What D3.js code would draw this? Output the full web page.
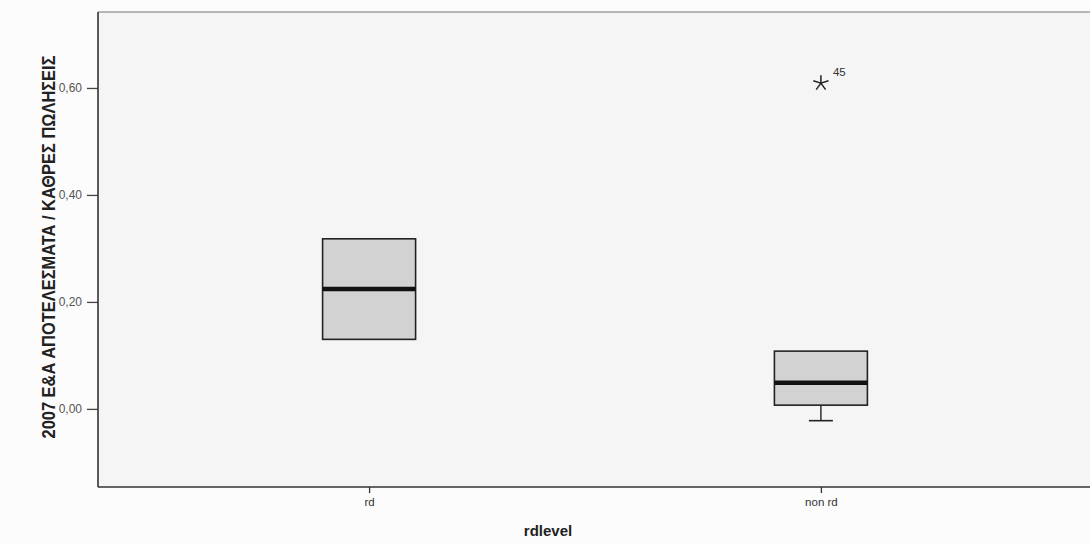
<!DOCTYPE html>
<html>
<head>
<meta charset="utf-8">
<script src="https://cdn.jsdelivr.net/npm/d3@7"></script>
<style>
  html, body { margin: 0; padding: 0; background: #fcfcfc; }
  svg { display: block; }
</style>
</head>
<body>
<svg id="chart" width="1090" height="544"></svg>
<script>
// ---- data ----
const categories = ["rd", "non rd"];
const whiskerLow  = [0.130, -0.022];
const q1          = [0.130, 0.007];
const median      = [0.224, 0.049];
const q3          = [0.318, 0.108];
const whiskerHigh = [0.318, 0.108];
const outlierValues = [null, 0.609];
const outlierLabels = [null, "45"];
const yTicks = [0.0, 0.2, 0.4, 0.6];
const yTitle = "2007 Ε&Α ΑΠΟΤΕΛΕΣΜΑΤΑ / ΚΑΘΡΕΣ ΠΩΛΗΣΕΙΣ";
const xTitle = "rdlevel";

// ---- layout ----
const plotL = 98, plotT = 12, plotB = 487, plotR = 1092;
const svg = d3.select("#chart");

const y = d3.scaleLinear().domain([-0.146, 0.742]).range([plotB, plotT]);
const x = d3.scalePoint().domain(categories).range([plotL, plotR]).padding(0.6);
const boxW = 93;

// plot background
svg.append("rect").attr("x", plotL).attr("y", plotT).attr("width", plotR - plotL).attr("height", plotB - plotT)
  .attr("fill", "#f5f5f5");
svg.append("line").attr("x1", plotL).attr("x2", plotR).attr("y1", plotT).attr("y2", plotT)
  .attr("stroke", "#a0a0a0").attr("stroke-width", 1.5);

// y axis
const yAxis = d3.axisLeft(y).tickValues(yTicks).tickSize(11).tickPadding(5)
  .tickFormat(d => d3.format(".2f")(d).replace(".", ","));
const gy = svg.append("g").attr("transform", `translate(${plotL},0)`).call(yAxis);
gy.select(".domain").remove();
gy.selectAll(".tick line").attr("stroke", "#444").attr("stroke-width", 1.3);
gy.selectAll(".tick text").attr("fill", "#555").style("font-family", "Liberation Sans, Arial, sans-serif")
  .style("font-size", "12px");
svg.append("line").attr("x1", plotL).attr("x2", plotL).attr("y1", plotT).attr("y2", plotB)
  .attr("stroke", "#333").attr("stroke-width", 1.6);

// x axis
const xAxis = d3.axisBottom(x).tickSize(6).tickPadding(5);
const gx = svg.append("g").attr("transform", `translate(0,${plotB})`).call(xAxis);
gx.select(".domain").remove();
gx.selectAll(".tick line").attr("stroke", "#333").attr("stroke-width", 1.3);
gx.selectAll(".tick text").attr("fill", "#333").style("font-family", "Liberation Sans, Arial, sans-serif")
  .style("font-size", "11.5px");
svg.append("line").attr("x1", plotL).attr("x2", plotR).attr("y1", plotB).attr("y2", plotB)
  .attr("stroke", "#333").attr("stroke-width", 1.6);

// boxes
const data = categories.map((c, i) => ({
  c, lo: whiskerLow[i], q1: q1[i], med: median[i], q3: q3[i], hi: whiskerHigh[i],
  out: outlierValues[i], lab: outlierLabels[i]
}));

// 5-ray asterisk symbol
const starSymbol = {
  draw(ctx, size) {
    const r = Math.sqrt(size) / 2;
    for (let k = 0; k < 5; k++) {
      const a = -Math.PI / 2 + k * 2 * Math.PI / 5;
      ctx.moveTo(0, 0);
      ctx.lineTo(r * Math.cos(a), r * Math.sin(a));
    }
  }
};

const g = svg.append("g");
data.forEach(d => {
  const cx = x(d.c);
  if (d.lo < d.q1) {
    g.append("line").attr("x1", cx).attr("x2", cx).attr("y1", y(d.q1)).attr("y2", y(d.lo))
      .attr("stroke", "#222").attr("stroke-width", 1.4);
    g.append("line").attr("x1", cx - 12).attr("x2", cx + 12).attr("y1", y(d.lo)).attr("y2", y(d.lo))
      .attr("stroke", "#222").attr("stroke-width", 1.6);
  }
  if (d.hi > d.q3) {
    g.append("line").attr("x1", cx).attr("x2", cx).attr("y1", y(d.q3)).attr("y2", y(d.hi))
      .attr("stroke", "#222").attr("stroke-width", 1.4);
    g.append("line").attr("x1", cx - 12).attr("x2", cx + 12).attr("y1", y(d.hi)).attr("y2", y(d.hi))
      .attr("stroke", "#222").attr("stroke-width", 1.6);
  }
  g.append("rect").attr("x", cx - boxW / 2).attr("y", y(d.q3)).attr("width", boxW)
    .attr("height", y(d.q1) - y(d.q3)).attr("fill", "#d2d2d2").attr("stroke", "#222").attr("stroke-width", 1.6);
  g.append("line").attr("x1", cx - boxW / 2).attr("x2", cx + boxW / 2).attr("y1", y(d.med)).attr("y2", y(d.med))
    .attr("stroke", "#111").attr("stroke-width", 4.5);
  if (d.out != null) {
    g.append("path").attr("transform", `translate(${cx},${y(d.out)})`)
      .attr("d", d3.symbol(starSymbol, 256)())
      .attr("fill", "none").attr("stroke", "#222").attr("stroke-width", 1.5);
    g.append("text").attr("x", cx + 12).attr("y", y(d.out) - 7)
      .style("font-family", "Liberation Sans, Arial, sans-serif").style("font-size", "11.5px").attr("fill", "#333")
      .text(d.lab);
  }
});

// axis titles
svg.append("text").attr("x", 548).attr("y", 536).attr("text-anchor", "middle")
  .style("font-family", "Liberation Sans, Arial, sans-serif").style("font-size", "15px").style("font-weight", "bold")
  .attr("fill", "#222").text(xTitle);

svg.append("text").attr("transform", "translate(55,247) rotate(-90)").attr("text-anchor", "middle")
  .style("font-family", "Liberation Sans Narrow, Liberation Sans, Arial, sans-serif").style("font-size", "17.5px")
  .style("font-weight", "bold").attr("fill", "#222")
  .attr("textLength", 383).attr("lengthAdjust", "spacingAndGlyphs")
  .text(yTitle);
</script>
</body>
</html>
